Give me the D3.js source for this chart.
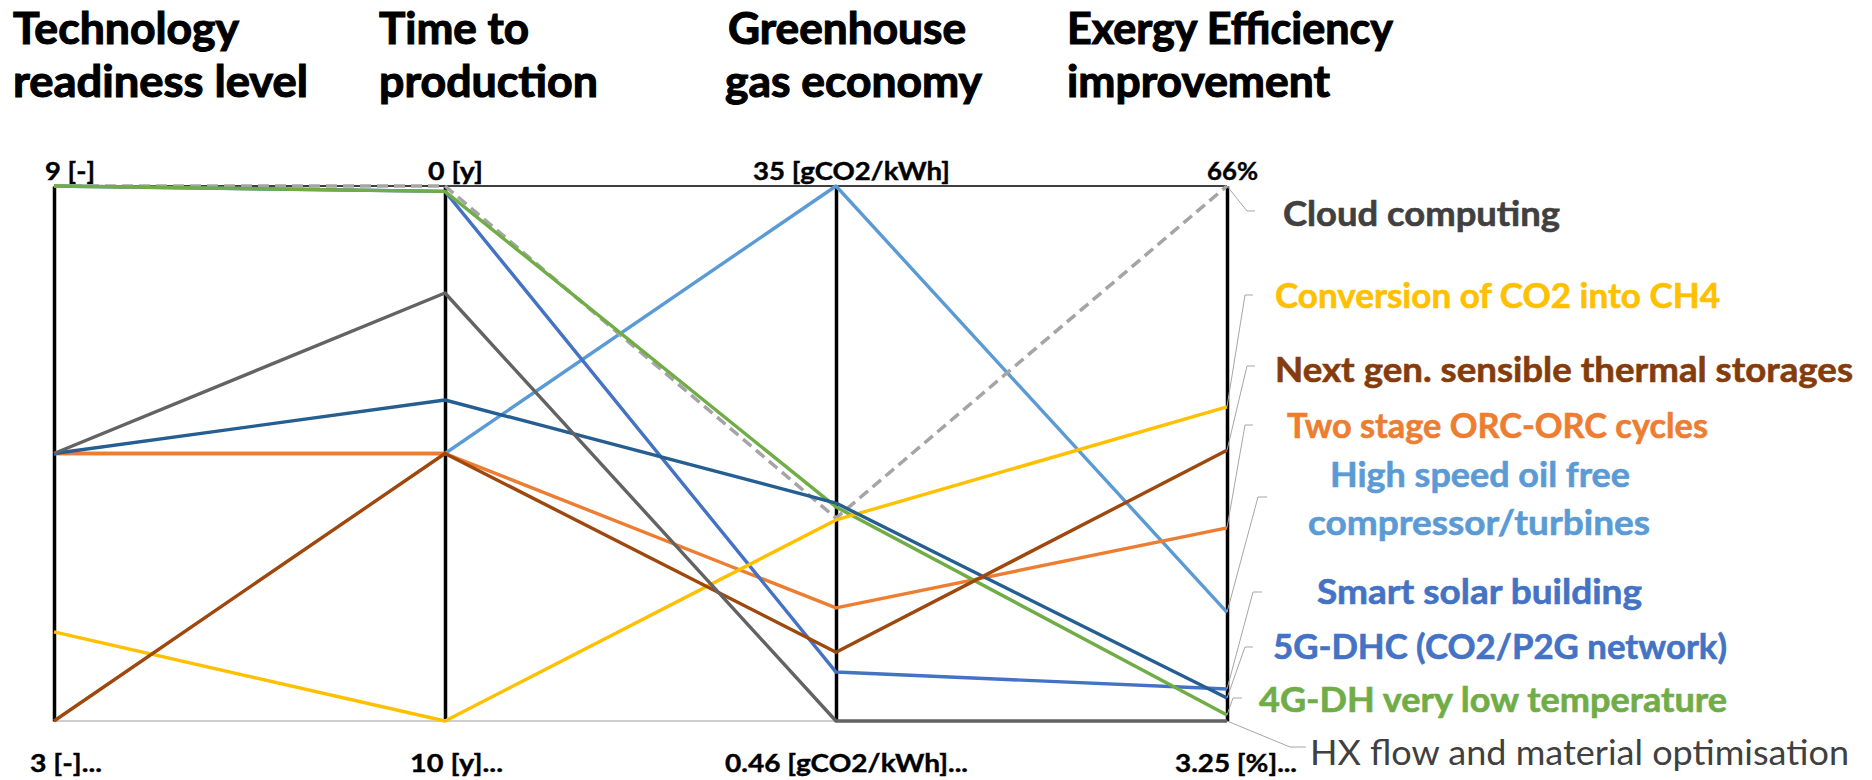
<!DOCTYPE html>
<html>
<head>
<meta charset="utf-8">
<script src="https://cdn.jsdelivr.net/npm/d3@7"></script>
<style>
  html, body { margin: 0; padding: 0; background: #fff; }
  svg { display: block; }
  text { font-family: Lato, "Open Sans", "DejaVu Sans", sans-serif; }
</style>
</head>
<body>
<div id="chart"></div>
<script>
// ---------------- DATA ----------------
const dimensions = ["trl", "time", "ghg", "exergy"];
const titleLines = [
  ["Technology", "readiness level"],
  ["Time to", "production"],
  ["Greenhouse", "gas economy"],
  ["Exergy Efficiency", "improvement"]
];
const topTickLabels = ["9 [-]", "0 [y]", "35 [gCO2/kWh]", "66%"];
const bottomTickLabels = ["3 [-]...", "10 [y]...", "0.46 [gCO2/kWh]...", "3.25 [%]..."];
// axis value ranges [bottom, top]
const trlRange = [3, 9];
const timeRange = [10, 0];
const ghgRange = [0.46, 35];
const exergyRange = [3.25, 66];

const seriesNames = [
  "High speed oil free compressor/turbines",
  "Two stage ORC-ORC cycles",
  "Smart solar building",
  "Cloud computing",
  "4G-DH very low temperature",
  "Conversion of CO2 into CH4",
  "5G-DHC (CO2/P2G network)",
  "Next gen. sensible thermal storages",
  "HX flow and material optimisation"
];
const trlValues      = [6, 6, 9, 9, 9, 4, 6, 3, 6];
const timeValues     = [5, 5, 0.1, 0, 0.1, 10, 4, 5, 2];
const ghgValues      = [35, 7.76, 3.62, 13.56, 14.28, 13.44, 14.53, 4.9, 0.46];
const exergyValues   = [16.0, 25.9, 7.0, 66, 3.95, 40.1, 5.95, 35.0, 3.25];

// ---------------- STYLE / LAYOUT ----------------
const lineColors = ["#5B9BD5", "#ED7D31", "#4472C4", "#A5A5A5", "#70AD47", "#FFC000", "#255E91", "#9E480E", "#636363"];
const dashed = [false, false, false, true, false, false, false, false, false];
const labelColors = ["#5B9BD5", "#ED7D31", "#4472C4", "#404040", "#70AD47", "#FFC000", "#4472C4", "#843C0C", "#404040"];
const labelBold = [true, true, true, true, true, true, true, true, false];
const labelLayout = [
  {lines: ["High speed oil free", "compressor/turbines"], boxes: [[1480, 487, 300], [1479, 535, 342]], anchor: "middle", elbow: [1258, 497], end: [1267, 497]},
  {lines: ["Two stage ORC-ORC cycles"], boxes: [[1287, 438, 421]], anchor: "start", elbow: [1245, 425], end: [1253, 425]},
  {lines: ["Smart solar building"], boxes: [[1317, 604, 325]], anchor: "start", elbow: [1253, 592], end: [1262, 592]},
  {lines: ["Cloud computing"], boxes: [[1283, 226, 277]], anchor: "start", elbow: [1247, 211], end: [1255, 211]},
  {lines: ["4G-DH very low temperature"], boxes: [[1259, 712, 468]], anchor: "start", elbow: [1233, 698], end: [1242, 698]},
  {lines: ["Conversion of CO2 into CH4"], boxes: [[1275, 308, 445]], anchor: "start", elbow: [1245, 295], end: [1253, 295]},
  {lines: ["5G-DHC (CO2/P2G network)"], boxes: [[1273, 659, 454]], anchor: "start", elbow: [1245, 647], end: [1253, 647]},
  {lines: ["Next gen. sensible thermal storages"], boxes: [[1275, 382, 578]], anchor: "start", elbow: [1247, 366], end: [1255, 366]},
  {lines: ["HX flow and material optimisation"], boxes: [[1310, 765, 539]], anchor: "start", elbow: [1290, 747], end: [1306, 747]}
];

const W = 1872, H = 780;
const plot = {left: 54, right: 1227, top: 186, bottom: 721};

const titleLayout = [
  [[13, 44, 226], [13, 97, 295]],
  [[379, 44, 150], [379, 97, 219]],
  [[728, 44, 238], [725, 97, 257]],
  [[1067, 44, 326], [1067, 97, 263]]
];
const topLabelLayout = [[45, 180, 50], [428, 180, 55], [753, 180, 197], [1207, 180, 51]];
const bottomLabelLayout = [[30, 772, 72], [410, 772, 93], [725, 772, 243], [1175, 772, 122]];

// ---------------- BUILD ----------------
const rows = seriesNames.map((name, i) => ({
  name, trl: trlValues[i], time: timeValues[i], ghg: ghgValues[i], exergy: exergyValues[i],
  color: lineColors[i], dashed: dashed[i], labelColor: labelColors[i], bold: labelBold[i], layout: labelLayout[i]
}));

const x = d3.scalePoint().domain(dimensions).range([plot.left, plot.right]);
const yScales = {
  trl: d3.scaleLinear().domain(trlRange).range([plot.bottom, plot.top]),
  time: d3.scaleLinear().domain(timeRange).range([plot.bottom, plot.top]),
  ghg: d3.scaleLinear().domain(ghgRange).range([plot.bottom, plot.top]),
  exergy: d3.scaleLinear().domain(exergyRange).range([plot.bottom, plot.top])
};

const svg = d3.select("#chart").append("svg").attr("width", W).attr("height", H);
svg.append("rect").attr("width", W).attr("height", H).attr("fill", "#fff");

function addText(g, str, box, size, weight, color, anchor, strokeW) {
  const t = g.append("text")
    .attr("x", box[0]).attr("y", box[1])
    .attr("font-size", size).attr("font-weight", weight)
    .attr("fill", color).attr("text-anchor", anchor || "start")
    .text(str);
  if (strokeW) t.attr("stroke", color).attr("stroke-width", strokeW).attr("paint-order", "stroke");
  if (box[2]) t.attr("textLength", box[2]).attr("lengthAdjust", "spacingAndGlyphs");
  return t;
}

// titles
const gTitles = svg.append("g");
titleLines.forEach((lines, i) => {
  lines.forEach((s, j) => addText(gTitles, s, titleLayout[i][j], 43, 700, "#000", "start", 1.1));
});

// plot borders
svg.append("line").attr("x1", plot.left).attr("x2", plot.right).attr("y1", plot.top).attr("y2", plot.top)
  .attr("stroke", "#000").attr("stroke-width", 1.5);
svg.append("line").attr("x1", plot.left).attr("x2", plot.right).attr("y1", plot.bottom).attr("y2", plot.bottom)
  .attr("stroke", "#BFBFBF").attr("stroke-width", 1.5);

// axes
dimensions.forEach(dim => {
  const g = svg.append("g").attr("transform", `translate(${x(dim)},0)`)
    .call(d3.axisLeft(yScales[dim]).ticks(0).tickSizeOuter(0));
  g.select(".domain").attr("stroke", "#000").attr("stroke-width", 3.5);
  g.selectAll("text").remove();
});

// tick labels
const gLab = svg.append("g");
topTickLabels.forEach((s, i) => addText(gLab, s, topLabelLayout[i], 25, 700, "#000", "start", 0.4));
bottomTickLabels.forEach((s, i) => addText(gLab, s, bottomLabelLayout[i], 25, 700, "#000", "start", 0.4));

// series lines
const line = d3.line().x(d => x(d.dim)).y(d => yScales[d.dim](d.v));
svg.append("g").selectAll("path").data(rows).join("path")
  .attr("d", r => line(dimensions.map(dim => ({dim, v: r[dim]}))))
  .attr("fill", "none")
  .attr("stroke", r => r.color)
  .attr("stroke-width", r => r.dashed ? 3.5 : 3.4)
  .attr("stroke-dasharray", r => r.dashed ? "11,6" : null)
  .attr("stroke-linejoin", "round");

// leader lines + labels
const gLeg = svg.append("g");
rows.forEach(r => {
  const lastDim = dimensions[dimensions.length - 1];
  const sx = x(lastDim), sy = yScales[lastDim](r[lastDim]);
  gLeg.append("polyline")
    .attr("points", [[sx, sy], r.layout.elbow, r.layout.end].map(p => p.join(",")).join(" "))
    .attr("fill", "none").attr("stroke", "#A6A6A6").attr("stroke-width", 1);
  r.layout.lines.forEach((s, j) => {
    addText(gLeg, s, r.layout.boxes[j], 35, r.bold ? 700 : 400, r.labelColor, r.layout.anchor, r.bold ? 0.6 : 0);
  });
});
</script>
</body>
</html>
